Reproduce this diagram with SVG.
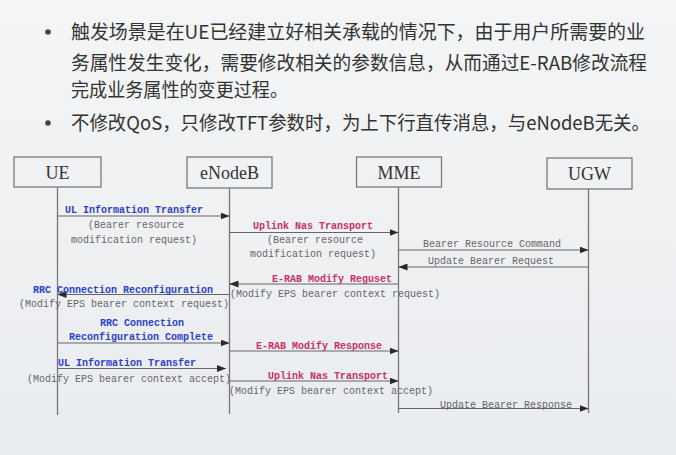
<svg xmlns="http://www.w3.org/2000/svg" width="676" height="455" viewBox="0 0 676 455">
<defs>
<linearGradient id="bg" x1="0" y1="0" x2="0" y2="1">
<stop offset="0" stop-color="#f4f5f6"/>
<stop offset="1" stop-color="#e9ecef"/>
</linearGradient>
<marker id="ah" markerWidth="9" markerHeight="7" refX="9" refY="3.5" orient="auto" markerUnits="userSpaceOnUse">
<path d="M0,0 L9,3.5 L0,7 z" fill="#2a2a2a"/>
</marker>
</defs>
<style>
.cjk{font-family:"Noto Sans CJK SC","Noto Sans",sans-serif;font-size:19px;fill:#333}
.box{fill:none;stroke:#7a7a7a;stroke-width:1.3}
.bl{font-family:"Liberation Serif",serif;font-size:18px;fill:#333;text-anchor:middle}
.life{stroke:#777;stroke-width:1.3}
.msg{stroke:#666;stroke-width:1.2;fill:none;marker-end:url(#ah)}
.m{font-family:"Liberation Mono",monospace;font-size:10px}
.blue{fill:#2b3fcf;font-weight:bold}
.pink{fill:#cc2f6a;font-weight:bold}
.gray{fill:#666}
</style>
<rect width="676" height="455" fill="url(#bg)"/>
<g id="bullets">
<circle cx="48" cy="32" r="2.8" fill="#444"/>
<text class="cjk" x="71" y="39" textLength="574" lengthAdjust="spacingAndGlyphs">触发场景是在UE已经建立好相关承载的情况下，由于用户所需要的业</text>
<text class="cjk" x="71" y="69.5" textLength="576" lengthAdjust="spacingAndGlyphs">务属性发生变化，需要修改相关的参数信息，从而通过E-RAB修改流程</text>
<text class="cjk" x="71" y="96.5" textLength="217" lengthAdjust="spacingAndGlyphs">完成业务属性的变更过程。</text>
<circle cx="48" cy="123" r="2.8" fill="#444"/>
<text class="cjk" x="71" y="130" textLength="579" lengthAdjust="spacingAndGlyphs">不修改QoS，只修改TFT参数时，为上下行直传消息，与eNodeB无关。</text>
</g>
<g id="UE">
<rect class="box" x="14" y="157" width="87" height="30"/>
<text class="bl" x="57.5" y="178.5">UE</text>
<line class="life" x1="57.5" y1="187" x2="57.5" y2="415"/>
</g>
<g id="eNodeB">
<rect class="box" x="187" y="157" width="85" height="31"/>
<text class="bl" x="229.5" y="178.5">eNodeB</text>
<line class="life" x1="229.5" y1="188" x2="229.5" y2="414"/>
</g>
<g id="MME">
<rect class="box" x="356.5" y="157" width="85" height="30"/>
<text class="bl" x="399" y="178.5">MME</text>
<line class="life" x1="398.5" y1="187" x2="398.5" y2="413"/>
</g>
<g id="UGW">
<rect class="box" x="547" y="158" width="85" height="31"/>
<text class="bl" x="589.5" y="179.5">UGW</text>
<line class="life" x1="588.5" y1="189" x2="588.5" y2="413"/>
</g>
<g id="connectors">
<line class="msg" x1="57.5" y1="216" x2="229.5" y2="216"/>
<line class="msg" x1="229.5" y1="232.5" x2="398.5" y2="232.5"/>
<line class="msg" x1="398.5" y1="250" x2="588.5" y2="250"/>
<line class="msg" x1="588.5" y1="267" x2="398.5" y2="267"/>
<line class="msg" x1="398.5" y1="284" x2="229.5" y2="284"/>
<line class="msg" x1="229.5" y1="294.5" x2="57.5" y2="294.5"/>
<line class="msg" x1="57.5" y1="343" x2="229.5" y2="343"/>
<line class="msg" x1="229.5" y1="351" x2="398.5" y2="351"/>
<line class="msg" x1="57.5" y1="368.5" x2="226" y2="368.5"/>
<line class="msg" x1="229.5" y1="381" x2="398.5" y2="381"/>
<line class="msg" x1="398.5" y1="408.5" x2="588.5" y2="408.5"/>
</g>
<g id="labels">
<text class="m blue" x="65" y="213">UL Information Transfer</text>
<text class="m gray" x="88" y="227.5">(Bearer resource</text>
<text class="m gray" x="71" y="242.5">modification request)</text>
<text class="m pink" x="253" y="228.5">Uplink Nas Transport</text>
<text class="m gray" x="267" y="242.5">(Bearer resource</text>
<text class="m gray" x="250" y="256.5">modification request)</text>
<text class="m gray" x="423" y="247">Bearer Resource Command</text>
<text class="m gray" x="428" y="263.5">Update Bearer Request</text>
<text class="m pink" x="272" y="281.5">E-RAB Modify Reguset</text>
<text class="m gray" x="230" y="296.5">(Modify EPS bearer context request)</text>
<text class="m blue" x="33" y="292.5">RRC Connection Reconfiguration</text>
<text class="m gray" x="19" y="306.5">(Modify EPS bearer context request)</text>
<text class="m blue" x="100" y="326">RRC Connection</text>
<text class="m blue" x="69" y="340">Reconfiguration Complete</text>
<text class="m pink" x="256" y="348.5">E-RAB Modify Response</text>
<text class="m blue" x="58" y="366">UL Information Transfer</text>
<text class="m gray" x="27" y="381.5">(Modify EPS bearer context accept)</text>
<text class="m pink" x="268" y="378.5">Uplink Nas Transport</text>
<text class="m gray" x="229" y="393.5">(Modify EPS bearer context accept)</text>
<text class="m gray" x="440" y="407.5">Update Bearer Response</text>
</g>
</svg>
